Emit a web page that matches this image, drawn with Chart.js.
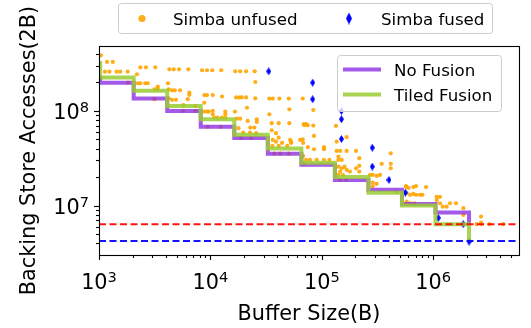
<!DOCTYPE html>
<html>
<head>
<meta charset="utf-8">
<script src="https://cdn.jsdelivr.net/npm/chart.js@4.4.1/dist/chart.umd.min.js"></script>
<style>
  html, body { margin: 0; padding: 0; background: #ffffff; }
  #wrap { width: 531px; height: 328px; }
</style>
</head>
<body>
<div id="wrap"><canvas id="chart" width="531" height="328"></canvas></div>
<script>
// ---- data -------------------------------------------------------------
// Simba runs without fusion: buffer size (B) and backing store accesses
const unfusedX = [
  1040, 1180, 1330, 2350, 2640, 3200, 4280, 4690, 5230, 6340,
  8410, 9320, 10400, 12500, 16700, 18500, 20900, 25000,
  1130, 1240, 1440, 1550, 1810, 2190, 1040, 25300,
  2230, 2350, 2600, 2740, 4160, 3370, 3370, 3140, 3320, 4220,
  4520, 4790, 5340, 6470, 6470, 8820, 9320, 10500, 12700,
  17000, 18200, 19100, 20900, 25300, 33800, 36300, 41600, 50500, 67400,
  4220, 4520, 4910, 6260, 8820, 5720, 7320, 21300, 51100,
  8820, 9320, 9660, 10500, 10500, 13600, 13600, 13600, 16600,
  10800, 11600, 12700, 17300, 18500, 21600, 26100, 26100, 33800,
  35500, 41000, 51100, 69700, 74700, 17900, 22800, 24800, 19700, 22700, 25700,
  35500, 38800, 41000, 36300, 38800, 44000, 52000, 53000, 53000, 64000, 68000,
  36000, 41000, 49000, 68000, 72200, 69700,
  1820, 3140, 5720, 7320, 9450, 12400, 18900, 23200, 37500, 42400, 50500,
  83900, 68900, 72200, 83900, 134000, 67400, 85100, 75000, 85100, 104600, 104600,
  136000, 167000, 136000, 146000, 167000, 203000,
  78300, 90000, 104600, 117000, 141000, 141000, 151000, 217000,
  141000, 151000, 160000, 146000, 167000, 179000, 141000, 155000, 203000, 217000, 217000,
  146000, 165000, 271000, 287000, 311000, 333000, 287000, 311000, 287000,
  345000, 416000, 416000, 416000, 470000,
  570000, 570000, 600000, 664000, 702000, 862000,
  578000, 619000, 664000, 702000, 762000, 800000, 578000, 619000, 680000,
  1075000, 1151000, 1075000, 1151000, 1217000, 1321000, 1415000, 1603000,
  1864000, 1864000, 2688000, 2688000, 2459000, 2727000, 3193000, 4262000
];
const unfusedY = [
  3.87e8, 3.29e8, 3.29e8, 2.89e8, 2.89e8, 2.89e8, 2.75e8, 2.75e8, 2.75e8, 2.75e8,
  2.69e8, 2.69e8, 2.69e8, 2.69e8, 2.62e8, 2.62e8, 2.62e8, 2.62e8,
  2.60e8, 2.60e8, 2.60e8, 2.60e8, 2.60e8, 2.44e8, 2.25e8, 2.02e8,
  1.96e8, 1.96e8, 1.96e8, 1.96e8, 1.96e8, 1.81e8, 1.72e8, 1.69e8, 1.69e8, 1.69e8,
  1.65e8, 1.65e8, 1.65e8, 1.56e8, 1.48e8, 1.47e8, 1.47e8, 1.47e8, 1.42e8,
  1.39e8, 1.39e8, 1.39e8, 1.39e8, 1.36e8, 1.35e8, 1.35e8, 1.35e8, 1.35e8, 1.35e8,
  1.36e8, 1.31e8, 1.31e8, 1.33e8, 1.22e8, 1.15e8, 1.13e8, 1.08e8, 1.04e8,
  9.84e7, 9.84e7, 9.84e7, 1.0e8, 9.23e7, 9.84e7, 9.23e7, 8.5e7, 9.84e7,
  8.5e7, 8.5e7, 8.5e7, 8.29e7, 8.29e7, 7.84e7, 8.17e7, 7.65e7, 9.23e7,
  7.42e7, 7.42e7, 7.42e7, 7.07e7, 7.07e7, 6.57e7, 6.67e7, 6.67e7, 5.9e7, 5.9e7, 5.82e7,
  6.25e7, 5.82e7, 5.22e7, 4.94e7, 4.74e7, 4.59e7, 4.94e7, 4.74e7, 4.59e7, 4.94e7, 4.59e7,
  4.27e7, 4.27e7, 4.27e7, 3.35e7, 3.04e7, 2.76e7,
  1.99e8, 1.33e8, 1.0e8, 1.0e8, 6.8e7, 6.8e7, 5.19e7, 5.19e7, 3.54e7, 3.54e7, 3.54e7,
  1.02e8, 7.24e7, 7.24e7, 7.0e7, 6.95e7, 5.02e7, 5.45e7, 4.14e7, 3.94e7, 4.14e7, 3.94e7,
  4.74e7, 5.28e7, 3.78e7, 3.78e7, 3.78e7, 3.78e7,
  3.04e7, 3.04e7, 3.04e7, 3.04e7, 3.29e7, 3.04e7, 3.04e7, 3.17e7,
  2.58e7, 2.48e7, 2.58e7, 2.29e7, 2.38e7, 2.29e7, 2.11e7, 2.11e7, 2.48e7, 2.63e7, 2.29e7,
  1.87e7, 1.87e7, 2.11e7, 2.11e7, 2.06e7, 2.11e7, 1.75e7, 1.70e7, 1.61e7,
  2.76e7, 3.57e7, 2.76e7, 2.48e7, 1.40e7,
  1.61e7, 1.57e7, 1.54e7, 1.57e7, 1.61e7, 1.57e7,
  1.36e7, 1.30e7, 1.33e7, 1.30e7, 1.30e7, 1.30e7, 1.10e7, 1.06e7, 1.06e7,
  1.24e7, 1.24e7, 1.15e7, 1.06e7, 9.75e6, 9.75e6, 1.06e7, 1.06e7,
  9.4e6, 7.98e6, 7.66e6, 6.61e6, 6.37e6, 6.37e6, 6.37e6, 6.37e6
];

// Simba runs with fusion
const fusedX = [33400, 82800, 82800, 150000, 150000, 150000, 284000, 284000, 401000, 562000, 1110000, 1860000, 2100000];
const fusedY = [2.62e8, 1.99e8, 1.33e8, 1.0e8, 8.17e7, 5.06e7, 4.09e7, 2.58e7, 1.87e7, 1.37e7, 7.41e6, 6.37e6, 4.17e6];

// analytical models, one level per buffer size (held until the next size)
const stepSizes = [1000, 1024, 2048, 4096, 8192, 16384, 32768, 65536, 131072, 262144, 524288, 1048576, 2097152];
const noFusionY = [2.2e8, 1.99e8, 1.35e8, 1.0e8, 6.8e7, 5.19e7, 3.54e7, 2.71e7, 1.87e7, 1.47e7, 1.04e7, 8.44e6, 6.37e6];
const tiledFusionY = [3.2e8, 2.25e8, 1.63e8, 1.13e8, 8.17e7, 5.62e7, 4.0e7, 2.84e7, 2.0e7, 1.37e7, 1.0e7, 6.37e6, 4.2e6];

// horizontal reference levels
const unfusedFloor = 6.37e6;
const fusedFloor = 4.24e6;

// axes
const xRange = [1000, 5.89e6];
const yRange = [3.01e6, 4.85e8];
const xMajorTicks = [1e3, 1e4, 1e5, 1e6];
const xTickLabels = [['10', '3'], ['10', '4'], ['10', '5'], ['10', '6']];
const yMajorTicks = [1e7, 1e8];
const yTickLabels = [['10', '7'], ['10', '8']];

// ---- helpers ----------------------------------------------------------
const FONT = "'DejaVu Sans', 'Liberation Sans', sans-serif";
const TICK_PX = 20.8, EXP_PX = 14.6;

function minorTicks(lo, hi) {
  const out = [];
  for (let d = Math.floor(Math.log10(lo)); d <= Math.ceil(Math.log10(hi)); d++) {
    for (let k = 1; k <= 9; k++) {
      const v = k * Math.pow(10, d);
      if (v >= lo * 0.9999 && v <= hi * 1.0001) out.push(v);
    }
  }
  return out;
}

function diamondImage(w, h, color) {
  const c = document.createElement('canvas');
  c.width = w; c.height = h;
  const g = c.getContext('2d');
  g.fillStyle = color;
  g.beginPath();
  g.moveTo(w / 2, 0); g.lineTo(w, h / 2); g.lineTo(w / 2, h); g.lineTo(0, h / 2);
  g.closePath();
  g.fill();
  return c;
}

const ORANGE = 'rgba(255,165,0,0.9)';
const BLUE = '#0000ff';
const PURPLE = 'rgba(138,43,226,0.78)';
const GREEN = 'rgba(154,205,50,0.85)';
const fusedMarker = diamondImage(5, 8, BLUE);
const fusedLegendMarker = diamondImage(6, 12, BLUE);

const pairs = (xs, ys) => xs.map((x, i) => ({ x: x, y: ys[i] }));

// power-of-ten label: base digits with a raised exponent
function powerLabel(ctx, parts, x, baseline, align) {
  ctx.font = TICK_PX + 'px ' + FONT;
  const wb = ctx.measureText(parts[0]).width;
  ctx.font = EXP_PX + 'px ' + FONT;
  const we = ctx.measureText(parts[1]).width;
  const total = wb + we;
  let left = x;
  if (align === 'center') left = x - total / 2;
  else if (align === 'right') left = x - total;
  ctx.textAlign = 'left';
  ctx.textBaseline = 'alphabetic';
  ctx.font = TICK_PX + 'px ' + FONT;
  ctx.fillText(parts[0], left, baseline);
  ctx.font = EXP_PX + 'px ' + FONT;
  ctx.fillText(parts[1], left + wb, baseline - 6.5);
}

// ---- frame, tick marks, tick labels and legends ----------------------
const decorations = {
  id: 'decorations',
  afterDraw(chart) {
    const ctx = chart.ctx;
    const a = chart.chartArea;
    const xs = chart.scales.x, ys = chart.scales.y;
    ctx.save();
    ctx.strokeStyle = '#000';
    ctx.lineWidth = 1.1;

    // tick marks (outside, majors longer)
    xs.ticks.forEach(t => {
      const px = Math.round(xs.getPixelForValue(t.value)) + 0.5;
      const len = xMajorTicks.includes(t.value) ? 5 : 3;
      ctx.beginPath(); ctx.moveTo(px, a.bottom); ctx.lineTo(px, a.bottom + len); ctx.stroke();
    });
    ys.ticks.forEach(t => {
      const py = Math.round(ys.getPixelForValue(t.value)) + 0.5;
      const len = yMajorTicks.includes(t.value) ? 5 : 3;
      ctx.beginPath(); ctx.moveTo(a.left, py); ctx.lineTo(a.left - len, py); ctx.stroke();
    });

    // tick labels
    ctx.fillStyle = '#000';
    xMajorTicks.forEach((v, i) => {
      powerLabel(ctx, xTickLabels[i], xs.getPixelForValue(v), a.bottom + 33.5, 'center');
    });
    yMajorTicks.forEach((v, i) => {
      powerLabel(ctx, yTickLabels[i], a.left - 10, ys.getPixelForValue(v) + 8, 'right');
    });

    // plot frame
    ctx.strokeRect(Math.round(a.left) + 0.5, Math.round(a.top) + 0.5,
                   Math.round(a.right - a.left), Math.round(a.bottom - a.top));

    // legend boxes
    function box(x, y, w, h, fill) {
      const r = 3;
      ctx.beginPath();
      ctx.moveTo(x + r, y);
      ctx.arcTo(x + w, y, x + w, y + h, r);
      ctx.arcTo(x + w, y + h, x, y + h, r);
      ctx.arcTo(x, y + h, x, y, r);
      ctx.arcTo(x, y, x + w, y, r);
      ctx.closePath();
      ctx.fillStyle = fill;
      ctx.fill();
      ctx.strokeStyle = '#cccccc';
      ctx.lineWidth = 1;
      ctx.stroke();
    }
    ctx.font = '16.67px ' + FONT;
    ctx.textBaseline = 'alphabetic';
    ctx.textAlign = 'left';

    // scatter legend above the plot
    box(118.5, 3.5, 374, 30, '#ffffff');
    ctx.fillStyle = ORANGE;
    ctx.beginPath(); ctx.arc(142, 18.5, 3.6, 0, Math.PI * 2); ctx.fill();
    ctx.drawImage(fusedLegendMarker, 349 - 3, 18.5 - 6);
    ctx.fillStyle = '#000';
    ctx.fillText('Simba unfused', 173, 24.5);
    ctx.fillText('Simba fused', 381, 24.5);

    // model legend inside the plot
    box(337.5, 55.5, 164, 56, 'rgba(255,255,255,0.8)');
    ctx.lineWidth = 4;
    ctx.strokeStyle = PURPLE;
    ctx.beginPath(); ctx.moveTo(343, 69.5); ctx.lineTo(381, 69.5); ctx.stroke();
    ctx.strokeStyle = GREEN;
    ctx.beginPath(); ctx.moveTo(343, 94.5); ctx.lineTo(381, 94.5); ctx.stroke();
    ctx.fillStyle = '#000';
    ctx.fillText('No Fusion', 394, 75.5);
    ctx.fillText('Tiled Fusion', 394, 100.5);
    ctx.restore();
  }
};

// ---- chart ------------------------------------------------------------
new Chart(document.getElementById('chart'), {
  type: 'scatter',
  data: {
    datasets: [
      {
        label: 'unfused floor', type: 'line', order: 0,
        data: [{ x: xRange[0], y: unfusedFloor }, { x: xRange[1], y: unfusedFloor }],
        borderColor: 'rgba(255,0,0,0.92)', borderWidth: 2, borderDash: [7, 3.5],
        pointRadius: 0, fill: false
      },
      {
        label: 'fused floor', type: 'line', order: 1,
        data: [{ x: xRange[0], y: fusedFloor }, { x: xRange[1], y: fusedFloor }],
        borderColor: 'rgba(0,0,255,0.92)', borderWidth: 2, borderDash: [7, 3.5],
        pointRadius: 0, fill: false
      },
      {
        label: 'Tiled Fusion', type: 'line', order: 2,
        data: pairs(stepSizes, tiledFusionY),
        borderColor: GREEN, borderWidth: 4, stepped: 'before',
        pointRadius: 0, fill: false
      },
      {
        label: 'No Fusion', type: 'line', order: 3,
        data: pairs(stepSizes, noFusionY),
        borderColor: PURPLE, borderWidth: 4, stepped: 'before',
        pointRadius: 0, fill: false
      },
      {
        label: 'Simba fused', order: 4,
        data: pairs(fusedX, fusedY),
        pointStyle: fusedMarker, pointRadius: 4,
        backgroundColor: BLUE, borderColor: BLUE
      },
      {
        label: 'Simba unfused', order: 5,
        data: pairs(unfusedX, unfusedY),
        pointStyle: 'circle', pointRadius: 2.1, borderWidth: 0,
        backgroundColor: ORANGE, borderColor: ORANGE
      }
    ]
  },
  options: {
    responsive: false,
    animation: false,
    devicePixelRatio: 1,
    layout: { padding: { top: 46, right: 12, left: 0, bottom: 0 } },
    plugins: { legend: { display: false }, tooltip: { enabled: false } },
    scales: {
      x: {
        type: 'logarithmic', min: xRange[0], max: xRange[1], bounds: 'data', offset: false,
        afterBuildTicks: s => { s.ticks = minorTicks(xRange[0], xRange[1]).map(v => ({ value: v })); },
        afterFit: s => { s.height = 73; },
        ticks: { display: false, autoSkip: false, maxRotation: 0 },
        grid: { display: false, drawTicks: true, tickLength: 5 },
        border: { display: false },
        title: {
          display: true, text: 'Buffer Size(B)', color: '#000',
          font: { family: FONT, size: 20.8 }, padding: { top: 0, bottom: 1 }
        }
      },
      y: {
        type: 'logarithmic', min: yRange[0], max: yRange[1], bounds: 'data', offset: false,
        afterBuildTicks: s => { s.ticks = minorTicks(yRange[0], yRange[1]).map(v => ({ value: v })); },
        afterFit: s => { s.width = 99; },
        ticks: { display: false, autoSkip: false },
        grid: { display: false, drawTicks: true, tickLength: 5 },
        border: { display: false },
        title: {
          display: true, text: 'Backing Store Accesses(2B)', color: '#000',
          font: { family: FONT, size: 20.8 }, padding: { top: 17, bottom: 0 }
        }
      }
    }
  },
  plugins: [decorations]
});
</script>
</body>
</html>
